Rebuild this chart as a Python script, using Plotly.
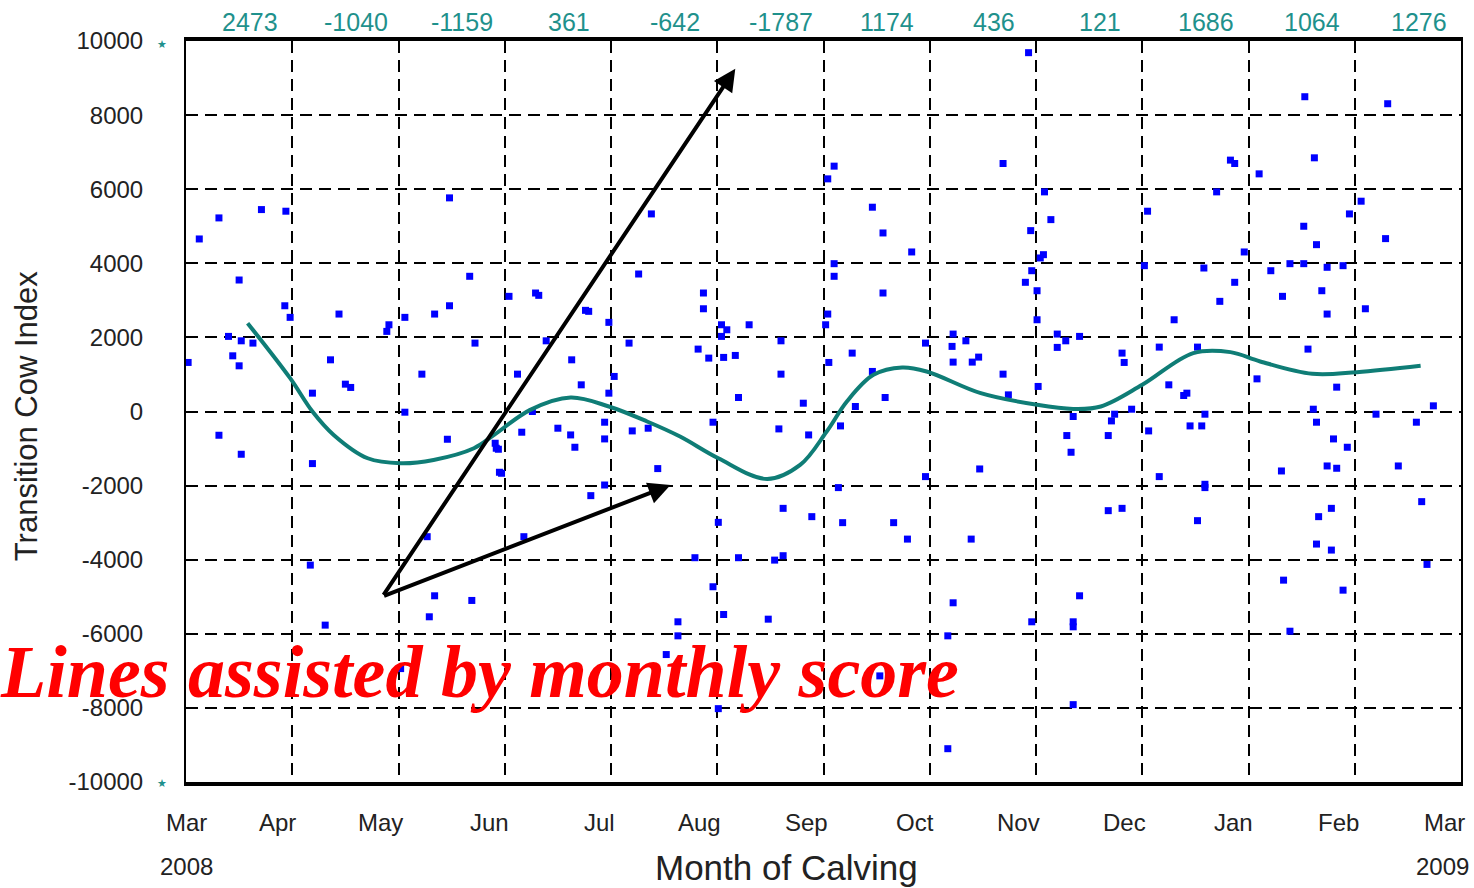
import plotly.graph_objects as go

# ---------------- data ----------------
month_labels = ["Mar", "Apr", "May", "Jun", "Jul", "Aug", "Sep", "Oct", "Nov", "Dec", "Jan", "Feb", "Mar"]
year_labels = ["2008", "2009"]
monthly_score = ["2473", "-1040", "-1159", "361", "-642", "-1787", "1174", "436", "121", "1686", "1064", "1276"]
y_ticks = [10000, 8000, 6000, 4000, 2000, 0, -2000, -4000, -6000, -8000, -10000]

# individual cows: calving time (months since 1 Mar 2008) and Transition Cow Index
cow_x = [0.125, 0.31, 0.71, 0.94, 0.50, 2.48, 2.67,
         0.02, 0.40, 0.52, 0.63, 0.44, 0.50, 0.93, 0.98, 1.44, 1.36, 1.50, 1.55, 1.19, 0.31, 0.52, 1.19, 1.17,
         1.91, 1.89, 2.06, 2.34, 2.48, 2.72, 2.22, 2.06, 2.46, 2.92, 2.95, 2.27,
         1.31, 2.34, 2.29, 2.69, 2.02, 1.66, 2.16,
         3.04, 3.29, 3.32, 3.79, 3.76, 3.98, 3.39, 3.63, 3.12, 3.72, 3.98, 4.03, 3.26, 3.16, 3.50, 3.62, 3.66,
         3.94, 3.94, 2.94, 2.91, 2.97, 3.81, 3.94, 4.44, 4.20, 4.35, 4.17, 4.87, 4.87, 4.82, 4.92, 5.04, 5.09,
         5.04, 5.06, 5.17, 5.30, 4.96, 5.20, 5.60, 5.60, 5.81, 5.58, 5.86, 6.04, 6.02, 6.05, 6.27, 6.46, 6.58,
         6.30, 6.16, 6.56, 6.10, 6.96, 7.22, 7.21, 7.34, 7.22, 7.40, 7.46, 6.96, 6.14, 5.01, 5.62, 5.89, 6.18,
         6.66, 6.79, 7.39, 7.47, 3.18, 4.79, 5.20, 5.54, 5.62,
         6.10, 6.04, 6.46, 6.56, 6.83, 6.10, 4.38, 4.26,
         4.96, 5.06, 5.48, 4.63, 4.63, 4.52, 5.01, 5.44, 7.22, 7.17, 7.17, 6.53,
         7.96, 8.35, 8.35, 8.41, 8.35, 10.39, 10.89, 10.33,
         7.90, 8.01, 8.01, 8.20, 8.28, 8.20, 8.41, 7.69, 7.74, 8.02, 8.35, 8.74, 8.71, 8.29, 8.33, 8.68, 8.90,
         8.81, 8.83, 9.30, 9.16, 9.25, 9.42, 9.39, 9.06, 9.59, 9.45, 9.56, 9.16, 9.59, 9.59, 8.68, 8.81, 9.52,
         9.73, 9.87, 9.52, 10.32, 10.69, 10.74, 10.56, 11.10, 10.08, 10.83, 10.61, 10.64, 10.80, 10.93, 10.74,
         10.83, 10.31, 10.66, 10.78, 10.64, 10.78, 11.20, 11.58, 11.74, 11.41, 11.63, 11.68,
         7.93, 7.69, 8.08, 8.14, 7.95, 8.07, 8.04, 7.96, 9.05, 9.02, 9.58, 9.83, 9.87, 10.10, 9.70, 9.96, 10.21,
         10.39, 10.52, 10.74, 10.89, 10.52, 10.64, 10.53, 10.62, 11.31, 11.06, 10.95, 11.29]
cow_y = [4657, 5225, 5450, 5406, 3549, 5766, 3649,
         1324, 2027, 1908, 1846, 1503, 1233, 2854, 2541, 2630, 1395, 738, 649, 495, -641, -1154, -1406, -4146,
         2341, 2162, 2541, 2630, 2854, 1846, 1008, -19, -749, -992, -1640, -3379,
         -5766, -4974, -5541, -5100, -6939, -10100, -10100,
         3108, 3198, 3135, 2703, 2730, 2406, 1908, 1395, 1008, 720, 495, 946, 0, -559, -451, -632, -965,
         -289, -740, -1019, -857, -1667, -2271, -1984, -1541, -524, -451, 1846, 3198, 2773, 1684, 1441, 2341, 2206,
         2027, 1460, 1513, 2341, -289, 378, 1908, 1008, 224, -470, -632, 2630, 2341, 1324, 1576, 1081, 378,
         135, -389, 3198, 3649, 1846, 2090, 1757, 1908, 1333, 1333, 1468, -1757, -2054, -2992, -2614, -2838, -3000,
         -3000, -3444, -3444, -1551, -3379, -3946, -3946, -4011, -3892,
         6622, 6279, 5514, 4819, 4306, 3990, 5333, 3711,
         -4730, -5479, -5605, -5676, -6055, -6560, -8020, -10100, -5163, -6055, -9101, -7136,
         -5676, -5676, -5811, -4974, -7912, -5930, -4822, -4552,
         3487, 3260, 2476, 2090, 1908, 1730, 2027, 1008, 449, 676, -135, -73, -254, -649, -1100, -649, 62,
         1576, 1324, 2476, 1738, 720, 495, 432, -524, -73, -389, -389, -1757, -1965, -2054, -2676, -2614, -2946,
         2973, 3487, 1738, 3108, 3260, 2630, 1684, 2773, 881, 657, 62, -289, -740, -965, -1470,
         -1532, -1605, -2838, -2614, -3578, -3740, -73, -289, 153, -1470, -2433, -4127,
         9685, 6693, 5928, 5179, 4882, 4233, 4144, 3800, 5406, 3936, 3873, 6785, 6693, 6414, 5928, 4306, 3800,
         3990, 3990, 3892, 3936, 5000, 4503, 8496, 6847, 8307, 5676, 5333, 4666]

# smoothed trend line
trend_x = [0.58, 0.98, 1.19, 1.39, 1.71, 2.02, 2.33, 2.71, 2.90, 3.24, 3.62, 3.98, 4.34, 4.65, 5.01,
           5.47, 5.78, 6.03, 6.22, 6.47, 6.74, 6.97, 7.48, 8.01, 8.35, 8.61, 9.00, 9.48, 9.83, 10.11,
           10.60, 11.02, 11.62]
trend_y = [2385, 900, 0, -632, -1262, -1397, -1308, -992, -632, 45, 378, 135, -270, -676, -1262,
           -1822, -1443, -541, 270, 989, 1189, 1081, 495, 180, 70, 135, 720, 1576, 1603, 1351,
           1017, 1062, 1233]

# arrows (tail shared, two heads), in data units
arrow_tail = (1.85, -4990)
arrow_heads = [(5.17, 9250), (4.56, -1985)]

TEAL_TEXT = "#1f918c"
TEAL_LINE = "#0f7d76"
DARK = "#222222"

fig = go.Figure()

fig.add_trace(go.Scatter(
    x=cow_x, y=cow_y, mode="markers",
    marker=dict(symbol="square", size=7, color="#0000ff", line=dict(width=0)),
    cliponaxis=False, showlegend=False, hoverinfo="skip"))

fig.add_trace(go.Scatter(
    x=trend_x, y=trend_y, mode="lines",
    line=dict(color=TEAL_LINE, width=4, shape="spline", smoothing=1.0),
    showlegend=False, hoverinfo="skip"))

annotations = []

# month labels below axis
for i, m in enumerate(month_labels):
    annotations.append(dict(
        x=i, y=-0.0553, xref="x", yref="paper", text=m, showarrow=False,
        xanchor="center" if i == 0 else "right", yanchor="middle",
        xshift=0 if i == 0 else 6,
        font=dict(family="Liberation Sans, Arial", size=24, color=DARK)))

# years
annotations.append(dict(x=0, y=-0.1134, xref="x", yref="paper", text=year_labels[0], showarrow=False,
                        xanchor="center", yanchor="middle",
                        font=dict(family="Liberation Sans, Arial", size=24, color=DARK)))
annotations.append(dict(x=12, y=-0.1134, xref="x", yref="paper", text=year_labels[1], showarrow=False,
                        xanchor="right", yanchor="middle", xshift=10,
                        font=dict(family="Liberation Sans, Arial", size=24, color=DARK)))

# monthly scores along the top
for i, s in enumerate(monthly_score):
    annotations.append(dict(
        x=i + 0.6, y=1.0256, xref="x", yref="paper", text=s, showarrow=False,
        xanchor="center", yanchor="middle",
        font=dict(family="Liberation Sans, Arial", size=25, color=TEAL_TEXT)))

# stars at the axis extremes
for yp in (0.996, 0.0):
    annotations.append(dict(x=-0.0186, y=yp, xref="paper", yref="paper", text="★", showarrow=False,
                            xanchor="center", yanchor="middle",
                            font=dict(size=11, color=TEAL_TEXT)))

# axis titles
annotations.append(dict(x=0.471, y=-0.116, xref="paper", yref="paper", text="Month of Calving",
                        showarrow=False, xanchor="center", yanchor="middle",
                        font=dict(family="Liberation Sans, Arial", size=35, color=DARK)))
annotations.append(dict(x=-0.1245, y=0.494, xref="paper", yref="paper", text="Transition Cow Index",
                        showarrow=False, xanchor="center", yanchor="middle", textangle=-90,
                        font=dict(family="Liberation Sans, Arial", size=31, color=DARK)))

# arrows
for hx, hy in arrow_heads:
    annotations.append(dict(x=hx, y=hy, ax=arrow_tail[0], ay=arrow_tail[1], xref="x", yref="y",
                            axref="x", ayref="y", text="", showarrow=True, arrowhead=2,
                            arrowsize=1.1, arrowwidth=4, arrowcolor="black", standoff=0))

# red caption
annotations.append(dict(x=-0.1475, y=0.148, xref="paper", yref="paper",
                        text="<b><i>Lines assisted by monthly score</i></b>", showarrow=False,
                        xanchor="left", yanchor="middle",
                        font=dict(family="Liberation Serif, Times New Roman", size=74, color="#ff0000")))

fig.update_layout(
    width=1474, height=888,
    margin=dict(l=186, r=13, t=41, b=106),
    paper_bgcolor="white", plot_bgcolor="white",
    annotations=annotations,
    showlegend=False,
)

fig.update_xaxes(
    range=[0, 12], tickvals=list(range(13)), showticklabels=False, ticks="",
    showgrid=True, gridcolor="black", gridwidth=2, griddash="12px,7px",
    zeroline=False, showline=True, mirror=True, linecolor="black", linewidth=4)

fig.update_yaxes(
    range=[-10000, 10000], tickvals=y_ticks, ticktext=[str(v) for v in y_ticks], ticks="",
    ticklabelstandoff=36,
    tickfont=dict(family="Liberation Sans, Arial", size=24, color=DARK),
    showgrid=True, gridcolor="black", gridwidth=2, griddash="12px,7px",
    zeroline=False, showline=True, mirror=True, linecolor="black", linewidth=2)

fig.write_html("out.html", config={"displayModeBar": False},
               post_script="document.body.style.margin='0';")
